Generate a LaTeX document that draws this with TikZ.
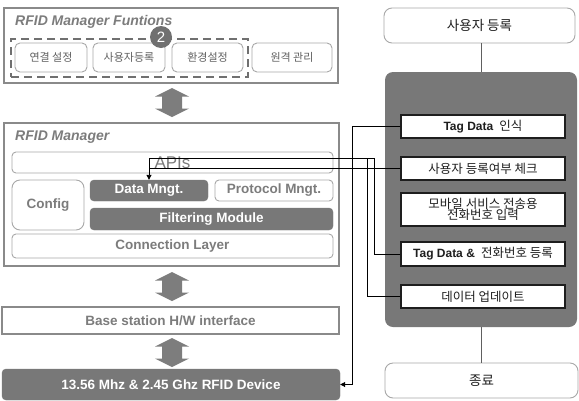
\documentclass[tikz,border=0pt]{standalone}
\usepackage{fontspec}
\setmainfont{Liberation Sans}
\newfontfamily\kr{Noto Sans CJK KR}
\usetikzlibrary{arrows.meta,calc}

\definecolor{framegray}{HTML}{8A8A8A}
\definecolor{thingray}{HTML}{A8A8A8}
\definecolor{darkfill}{HTML}{787878}
\definecolor{labelgray}{HTML}{7C7C7C}
\definecolor{krgray}{HTML}{606060}
\definecolor{arrowgray}{HTML}{7D7D7D}
\definecolor{dashgray}{HTML}{707070}
\definecolor{inkdark}{HTML}{1E1E1E}

\newcommand{\fs}[1]{\fontsize{#1}{#1}\selectfont}

\tikzset{
  frame/.style={draw=framegray, line width=2pt, fill=white, inner sep=0pt},
  softbox/.style={draw=thingray, line width=0.9pt, rounded corners=4pt, fill=white, inner sep=0pt,
    text=labelgray, font=\fs{13.5}\bfseries},
  krbox/.style={draw=thingray, line width=0.9pt, rounded corners=5pt, fill=white, inner sep=0pt,
    text=krgray, font=\kr\fs{11}},
  darkbox/.style={draw=darkfill, fill=darkfill, rounded corners=4pt, inner sep=0pt,
    text=white, font=\fs{13.5}\bfseries},
  title/.style={anchor=west, inner sep=0pt, text=labelgray, font=\fs{14}\bfseries\itshape},
  stepbox/.style={draw=inkdark, line width=1.1pt, fill=white, inner sep=0pt,
    text=inkdark, font=\fs{12}, align=center},
  endbox/.style={draw=thingray, line width=0.9pt, rounded corners=8pt, fill=white, inner sep=0pt,
    text=inkdark, font=\kr\fs{13.5}},
  wire/.style={draw=black, line width=0.9pt},
  tip/.style={-{Triangle[width=5pt,length=5pt]}},
  updown/.pic={\fill[arrowgray] (0,-14.5) -- (17,-6) -- (10,-6) -- (10,6) -- (17,6) -- (0,14.5)
      -- (-17,6) -- (-10,6) -- (-10,-6) -- (-17,-6) -- cycle;}
}

\begin{document}
\begin{tikzpicture}[x=1pt, y=-1pt]
\useasboundingbox[fill=white] (0,0) rectangle (579,400);

% ---------- left column: software stack ----------
\node[frame, minimum width=334pt, minimum height=75pt] (fbox) at (171,45.5) {};
\node[title] (ftitle) at (15,22) {RFID Manager Funtions};
\node[draw=dashgray, line width=2pt, dash pattern=on 8pt off 5pt, inner sep=0pt,
      minimum width=237pt, minimum height=38pt] (grp) at (129.5,58) {};
\node[krbox, minimum width=72pt, minimum height=29pt] (k1) at (51,57.5) {연결 설정};
\node[krbox, minimum width=72pt, minimum height=29pt] (k2) at (129,57.5) {사용자등록};
\node[krbox, minimum width=71pt, minimum height=29pt] (k3) at (207.5,57.5) {환경설정};
\node[krbox, minimum width=80pt, minimum height=29pt] (k4) at (292,57.5) {원격 관리};
\node[circle, fill=dashgray, minimum size=22pt, inner sep=0pt, text=white, font=\fs{15}]
  (badge) at (161,37) {2};

\pic at (172,102.5) {updown};

\node[frame, minimum width=335pt, minimum height=143pt] (mgr) at (171.5,194.5) {};
\node[title] (mtitle) at (15,137) {RFID Manager};
\node[softbox, minimum width=321pt, minimum height=21pt, font=\fs{17}] (apis) at (172.5,162.5) {APIs};
\node[softbox, rounded corners=8pt, minimum width=72pt, minimum height=50pt] (config) at (48,205) {Config};
\node[darkbox, minimum width=118pt, minimum height=21pt] (datam) at (149,190.5) {Data Mngt.};
\node[softbox, minimum width=118pt, minimum height=21pt] (proto) at (274,190.5) {Protocol Mngt.};
\node[darkbox, minimum width=243pt, minimum height=22pt] (filter) at (211.5,219) {Filtering Module};
\node[softbox, minimum width=321pt, minimum height=24pt] (conn) at (172.5,246) {Connection Layer};

\pic at (172,286.5) {updown};

\node[softbox, rounded corners=0pt, line width=1.1pt, draw=framegray, minimum width=337pt, minimum height=27pt]
  (base) at (170.5,320.5) {Base station H/W interface};

\pic at (172,352.5) {updown};

\node[darkbox, minimum width=338pt, minimum height=31pt] (dev) at (171,384.5)
  {13.56 Mhz \& 2.45 Ghz RFID Device};

% ---------- right column: registration flow ----------
\node[endbox, minimum width=191pt, minimum height=35pt] (start) at (479.5,25.5) {사용자 등록};
\node[fill=darkfill, rounded corners=8pt, minimum width=192pt, minimum height=255pt, inner sep=0pt]
  (panel) at (481,199.5) {};
\node[endbox, minimum width=193pt, minimum height=35pt] (finish) at (481.5,380.5) {종료};
\draw[draw=krgray, line width=0.9pt] (start.south -| panel.north) -- (panel.north);
\draw[draw=krgray, line width=0.9pt] (panel.south) -- (panel.south |- finish.north);

\node[stepbox, minimum width=164pt, minimum height=23pt] (r1) at (483,126.5)
  {\bfseries Tag Data \mdseries\kr\fs{12.5} 인식};
\node[stepbox, minimum width=164pt, minimum height=23pt, font=\kr\fs{12.5}] (r2) at (483,168.5)
  {사용자 등록여부 체크};
\node[stepbox, minimum width=164pt, minimum height=33pt, font=\kr\fs{12.5}] (r3) at (483,209.5)
  {모바일 서비스 전송용\\[-1pt]전화번호 입력};
\node[stepbox, minimum width=164pt, minimum height=24pt] (r4) at (483,254)
  {\bfseries Tag Data \& \mdseries\kr\fs{12.5} 전화번호 등록};
\node[stepbox, minimum width=164pt, minimum height=23pt, font=\kr\fs{12.5}] (r5) at (483,296.5)
  {데이터 업데이트};

% ---------- wiring between the flow and the stack ----------
\coordinate (busdev) at (352,0);
\coordinate (busA) at (374,158);
\coordinate (busB) at (367,158);
\coordinate (jn) at (datam.north |- busA);

\draw[wire, tip] (r1.west) -- (r1.west -| busdev) -- (busdev |- dev.east) -- (dev.east);
\draw[wire] (r2.west) -- (r2.west -| jn);
\draw[wire] (r4.west) -- (r4.west -| busA) -- (busA) -- (jn);
\draw[wire] (r5.west) -- (r5.west -| busB) -- (busB);
\draw[wire, tip] (jn) -- (datam.north);
\end{tikzpicture}
\end{document}
